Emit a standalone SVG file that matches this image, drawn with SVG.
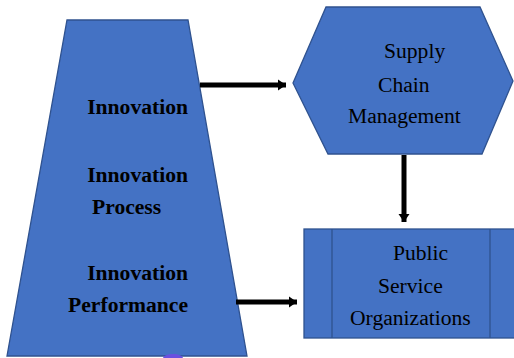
<svg xmlns="http://www.w3.org/2000/svg" width="514" height="358" viewBox="0 0 514 358">
<style>
.shape{fill:#4472C4;stroke:#2F528F;stroke-width:1.3}
.b{font-family:"Liberation Serif","Times New Roman",serif;font-weight:bold;font-size:21.6px;fill:#000}
.r{font-family:"Liberation Serif","Times New Roman",serif;font-size:21.6px;fill:#000}
.conn{stroke:#000;stroke-width:5;fill:none}
</style>
<defs>
<marker id="ah" markerUnits="userSpaceOnUse" markerWidth="10" markerHeight="14" refX="8" refY="7" orient="auto">
<path d="M0,1.5 L8,7 L0,12.5 Z" fill="#000"/>
</marker>
</defs>
<rect width="514" height="358" fill="#fff"/>
<g id="innovation">
<polygon class="shape" points="67,20 188,20 247,356 7,356"/>
<ellipse cx="173" cy="358" rx="10" ry="4" fill="#6A50E0"/>
<text class="b" x="188" y="114" text-anchor="end">Innovation</text>
<text class="b" x="188" y="182" text-anchor="end">Innovation</text>
<text class="b" x="92" y="214">Process</text>
<text class="b" x="188" y="280" text-anchor="end">Innovation</text>
<text class="b" x="188" y="312" text-anchor="end">Performance</text>
</g>
<g id="scm">
<polygon class="shape" points="293,83 326,7 480,7 513,81 482,154 328,154"/>
<text class="r" x="384" y="58">Supply</text>
<text class="r" x="378" y="92">Chain</text>
<text class="r" x="348" y="123">Management</text>
</g>
<g id="pso">
<rect class="shape" x="304" y="229" width="216" height="109"/>
<line class="shape" x1="332" y1="229" x2="332" y2="338"/>
<line class="shape" x1="490" y1="229" x2="490" y2="338"/>
<text class="r" x="393" y="260">Public</text>
<text class="r" x="378" y="293">Service</text>
<text class="r" x="350" y="325">Organizations</text>
</g>
<g id="connectors">
<line class="conn" x1="200" y1="85" x2="286" y2="85" marker-end="url(#ah)"/>
<line class="conn" x1="404" y1="155" x2="404" y2="222" marker-end="url(#ah)"/>
<line class="conn" x1="236" y1="302" x2="297" y2="302" marker-end="url(#ah)"/>
</g>
</svg>
